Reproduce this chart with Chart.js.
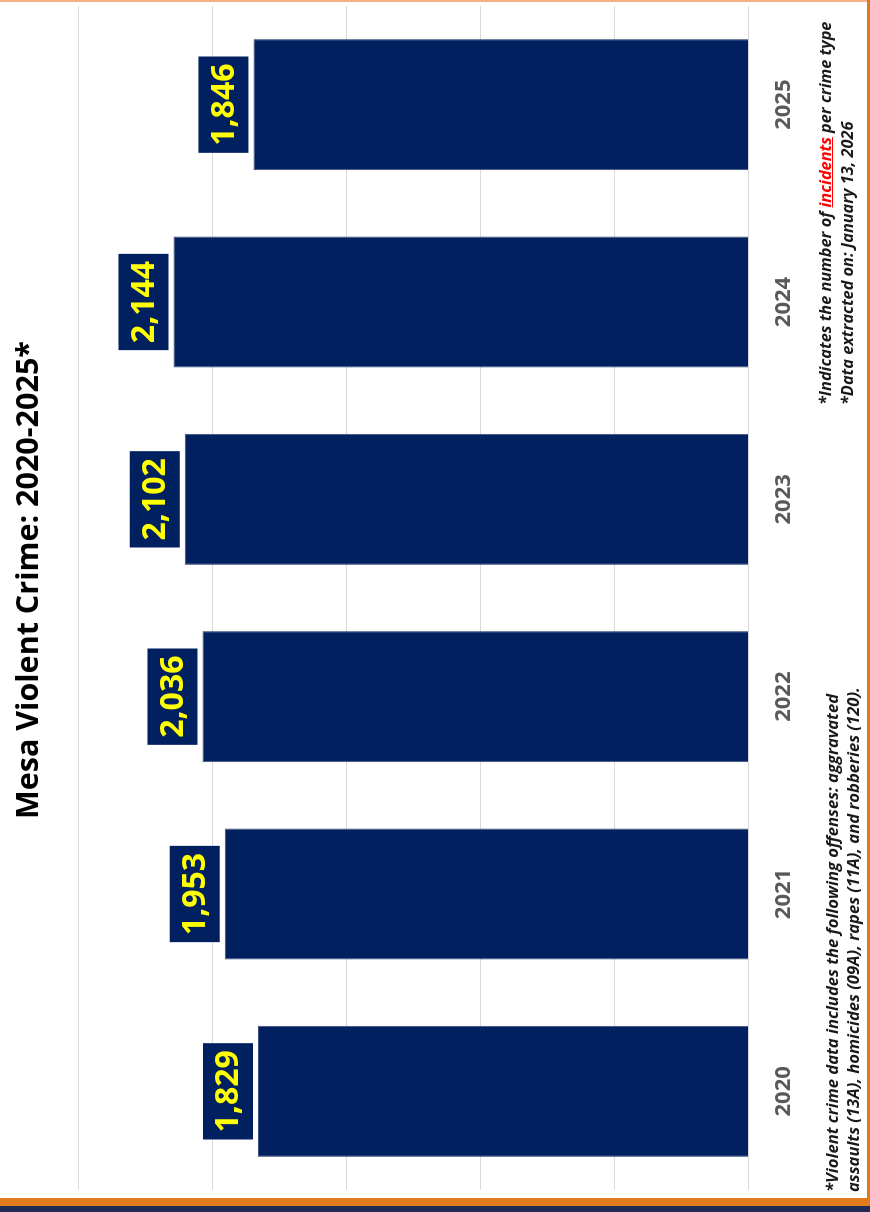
<!DOCTYPE html>
<html>
<head>
<meta charset="utf-8">
<script src="https://cdn.jsdelivr.net/npm/chart.js@4"></script>
<style>
    html, body { margin: 0; padding: 0; background: #fff; }
    body { width: 870px; height: 1212px; position: relative; overflow: hidden; font-family: "Open Sans", "Noto Sans", sans-serif; }
    /* the whole chart is laid out landscape, then turned a quarter turn */
    #wrap { position: absolute; left: 0; top: 0; width: 1212px; height: 870px; transform-origin: 0 0; transform: translate(0, 1212px) rotate(-90deg); }
    #wrap canvas { position: absolute; left: 0; top: 0; }
    #title { position: absolute; left: 0; width: 1264px; top: 5px; text-align: center; font-weight: bold; font-size: 30.5px; color: #000; }
    .note { position: absolute; font-style: italic; font-weight: bold; color: #1a1a1a; white-space: nowrap; }
    #note1 { left: 20px; top: 821px; line-height: 21px; font-size: 16.6px; }
    #note2 { left: 807px; top: 814px; line-height: 22px; font-size: 16.3px; }
    #note2 .red { color: #ff0000; text-decoration: underline; }
    .edge { position: absolute; }
</style>
</head>
<body>
<div id="wrap">
    <canvas id="chart" width="1212" height="870"></canvas>
    <div id="title">Mesa Violent Crime: 2020-2025*</div>
    <div class="note" id="note1">*Violent crime data includes the following offenses: aggravated<br>assaults (13A), homicides (09A), rapes (11A), and robberies (120).</div>
    <div class="note" id="note2">*Indicates the number of <span class="red">incidents</span> per crime type<br>*Data extracted on: January 13, 2026</div>
</div>
<div class="edge" style="left:0;top:0;width:870px;height:2px;background:#f4b183;"></div>
<div class="edge" style="left:867px;top:0;width:3px;height:1206px;background:#e07a22;"></div>
<div class="edge" style="left:0;top:1198px;width:870px;height:8px;background:#e37b1f;"></div>
<div class="edge" style="left:0;top:1206px;width:870px;height:6px;background:#1f2a55;"></div>
<script>
    const years = ['2020', '2021', '2022', '2023', '2024', '2025'];
    const incidents = [1829, 1953, 2036, 2102, 2144, 1846];
    const valueTicks = [0, 500, 1000, 1500, 2000, 2500];

    const navy = '#002060';

    // 数值标签: 深蓝底黄字, 放在柱顶外侧
    const valueLabels = {
        id: 'valueLabels',
        afterDatasetsDraw(chart) {
            const ctx = chart.ctx;
            const meta = chart.getDatasetMeta(0);
            ctx.save();
            ctx.font = 'bold 32px "Open Sans"';
            ctx.textAlign = 'center';
            ctx.textBaseline = 'middle';
            meta.data.forEach((bar, i) => {
                const text = incidents[i].toLocaleString('en-US');
                const w = ctx.measureText(text).width + 14;
                const h = 50;
                const bottom = bar.y - 5;
                ctx.fillStyle = navy;
                ctx.fillRect(bar.x - w / 2, bottom - h, w, h);
                ctx.fillStyle = '#ffff00';
                ctx.fillText(text, bar.x, bottom - h / 2 + 1);
            });
            ctx.restore();
        }
    };

    new Chart(document.getElementById('chart'), {
        type: 'bar',
        data: {
            labels: years,
            datasets: [{
                data: incidents,
                backgroundColor: navy,
                borderColor: '#3d4f7d',
                borderWidth: 1,
                barPercentage: 0.664,
                categoryPercentage: 1
            }]
        },
        options: {
            responsive: false,
            animation: false,
            layout: { padding: { left: 22, right: 6, top: 78, bottom: 59 } },
            plugins: { legend: { display: false }, tooltip: { enabled: false } },
            scales: {
                x: {
                    grid: { display: false },
                    border: { display: false },
                    ticks: { color: '#595959', font: { family: 'Open Sans', size: 22, weight: 'bold' }, padding: 14 }
                },
                y: {
                    min: 0,
                    max: 2500,
                    afterBuildTicks: (axis) => { axis.ticks = valueTicks.map(v => ({ value: v })); },
                    grid: { color: '#d9d9d9', lineWidth: 1, drawTicks: false },
                    border: { display: false },
                    ticks: { display: false }
                }
            }
        },
        plugins: [valueLabels]
    });
</script>
</body>
</html>
